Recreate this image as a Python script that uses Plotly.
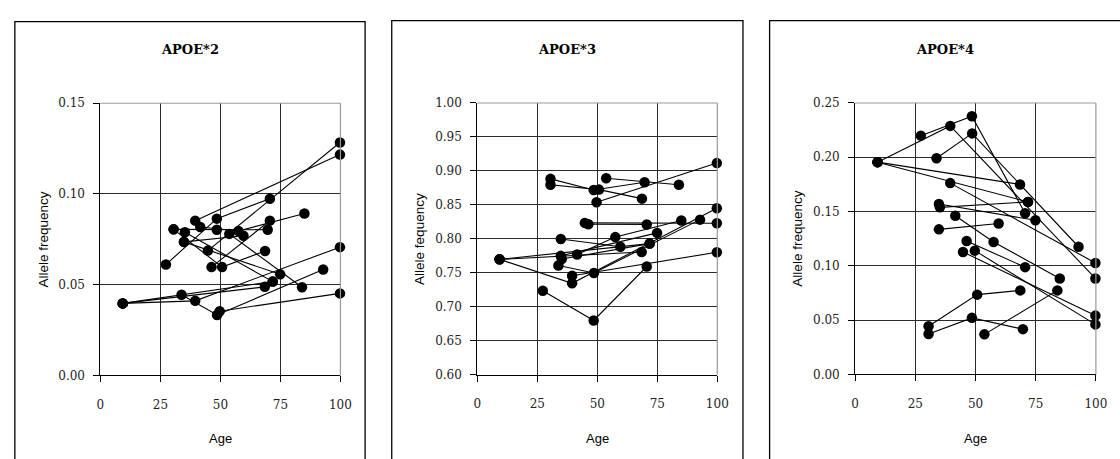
import plotly.graph_objects as go

# Each study: mean age of its age groups and the allele frequency in each group.
STUDY_AGES = [
    [27.3, 48.5, 70.6],
    [30.5, 48.5, 69.7],
    [30.5, 50.7, 68.6],
    [33.8, 48.6, 92.8],
    [9.3, 39.5, 99.8],
    [9.3, 68.5],
    [9.3, 71.8],
    [39.5, 99.8],
    [49.7, 99.8],
    [53.7, 84.0],
    [34.8, 59.6],
    [35.2, 71.8],
    [34.8, 74.9],
    [41.6, 57.5, 85.0],
    [46.3, 70.6],
    [44.8, 99.8],
]

APOE2 = [
    [0.0611, 0.0864, 0.0974],
    [0.0805, 0.0803, 0.0803],
    [0.0805, 0.0597, 0.0686],
    [0.0445, 0.0333, 0.0584],
    [0.0397, 0.0411, 0.0707],
    [0.0397, 0.0488],
    [0.0397, 0.0517],
    [0.0853, 0.1217],
    [0.0354, 0.0452],
    [0.0780, 0.0486],
    [0.0736, 0.0770],
    [0.0789, 0.0517],
    [0.0736, 0.0557],
    [0.0818, 0.0796, 0.0892],
    [0.0597, 0.0853],
    [0.0688, 0.1284],
]

APOE3 = [
    [0.7236, 0.6799, 0.7593],
    [0.8883, 0.8720, 0.8834],
    [0.8797, 0.8725, 0.8592],
    [0.7607, 0.7498, 0.8283],
    [0.7698, 0.7346, 0.8450],
    [0.7698, 0.7807],
    [0.7698, 0.7930],
    [0.7456, 0.7802],
    [0.8540, 0.9115],
    [0.8891, 0.8797],
    [0.7998, 0.7884],
    [0.7703, 0.7930],
    [0.7750, 0.8088],
    [0.7770, 0.8026, 0.8270],
    [0.8216, 0.8212],
    [0.8235, 0.8230],
]

APOE4 = [
    [0.2199, 0.2378, 0.1485],
    [0.0372, 0.0521, 0.0417],
    [0.0444, 0.0735, 0.0774],
    [0.1991, 0.2220, 0.1176],
    [0.1955, 0.2289, 0.0884],
    [0.1955, 0.1750],
    [0.1955, 0.1589],
    [0.1762, 0.1027],
    [0.1140, 0.0461],
    [0.0369, 0.0774],
    [0.1336, 0.1390],
    [0.1539, 0.1589],
    [0.1569, 0.1420],
    [0.1461, 0.1220, 0.0884],
    [0.1229, 0.0988],
    [0.1128, 0.0542],
]

PANEL_TITLES = ["APOE*2", "APOE*3", "APOE*4"]
Y_TITLES = ["Allele frequency", "Allele fequency", "Allele frequency"]
Y_RANGES = [(0.0, 0.15), (0.60, 1.00), (0.0, 0.25)]
X_TICKS = [0, 25, 50, 75, 100]

W, H = 1120, 459
# plot-area pixel boxes (left, right, top, bottom) and outer frames (left, right, top)
PLOT_BOX = [(97.7, 341.0, 99.3, 380.0), (479.7, 723.0, 99.0, 379.3), (862.7, 1106.7, 99.0, 379.0)]
FRAME = [(11, 366, 15), (393, 749, 14), (776, 1132, 14)]

SERIF = "DejaVu Serif"
SANS = "Liberation Sans, Arial, sans-serif"

fig = go.Figure()
shapes, annotations = [], []

for p, freqs in enumerate([APOE2, APOE3, APOE4]):
    sfx = "" if p == 0 else str(p + 1)
    xa, ya = "x" + sfx, "y" + sfx
    for ages, vals in zip(STUDY_AGES, freqs):
        fig.add_trace(go.Scatter(
            x=ages, y=vals, xaxis=xa, yaxis=ya, mode="lines+markers",
            line=dict(color="black", width=1.1),
            marker=dict(color="black", size=10.5),
            cliponaxis=False, showlegend=False, hoverinfo="x+y",
        ))

    l, r, t, b = PLOT_BOX[p]
    lo, hi = Y_RANGES[p]
    axis_common = dict(
        showline=True, linecolor="black", linewidth=1,
        ticks="outside", ticklen=6, tickcolor="black", tickwidth=1,
        showgrid=True, gridcolor="#2b2b2b", gridwidth=1, zeroline=False,
        tickfont=dict(family=SERIF, size=12, color="#222"),
    )
    fig.layout["xaxis" + sfx] = dict(
        axis_common, domain=[l / W, r / W], range=[0, 100],
        tickvals=X_TICKS, anchor=ya, ticklabelstandoff=12,
    )
    fig.layout["yaxis" + sfx] = dict(
        axis_common, domain=[1 - b / H, 1 - t / H], range=[lo, hi],
        dtick=0.05, tick0=0, tickformat=".2f", anchor=xa, ticklabelstandoff=6,
    )

    # light grey top and right edges of the plotting area
    for x0, y0, x1, y1 in [(0, 1, 1, 1), (1, 0, 1, 1)]:
        shapes.append(dict(type="line", xref=xa + " domain", yref=ya + " domain",
                           x0=x0, y0=y0, x1=x1, y1=y1,
                           line=dict(color="#9a9a9a", width=1.2), layer="above"))

    # outer frame around each chart (bottom edge falls below the page)
    fl, fr, ft = FRAME[p]
    shapes.append(dict(type="rect", xref="paper", yref="paper",
                       x0=fl / W, x1=fr / W, y0=-0.2, y1=1 - ft / H,
                       line=dict(color="black", width=1.3), layer="below"))

    annotations.append(dict(text="<b>%s</b>" % PANEL_TITLES[p], xref="paper", yref="paper",
                            x=(fl + fr) / 2 / W, y=1 - 44 / H, showarrow=False,
                            font=dict(family=SERIF, size=13, color="black"),
                            xanchor="center", yanchor="middle"))
    annotations.append(dict(text="Age", xref="paper", yref="paper",
                            x=(l + r) / 2 / W, y=1 - 445 / H, showarrow=False,
                            font=dict(family=SANS, size=13, color="black"),
                            xanchor="center", yanchor="middle"))
    annotations.append(dict(text=Y_TITLES[p], xref="paper", yref="paper",
                            x=(l - 58) / W, y=1 - (t + b) / 2 / H, showarrow=False,
                            textangle=-90, font=dict(family=SANS, size=13.5, color="black"),
                            xanchor="center", yanchor="middle"))

fig.update_layout(
    width=W, height=H, margin=dict(l=0, r=0, t=0, b=0),
    paper_bgcolor="white", plot_bgcolor="white",
    shapes=shapes, annotations=annotations, showlegend=False,
)

fig.write_html("out.html")
